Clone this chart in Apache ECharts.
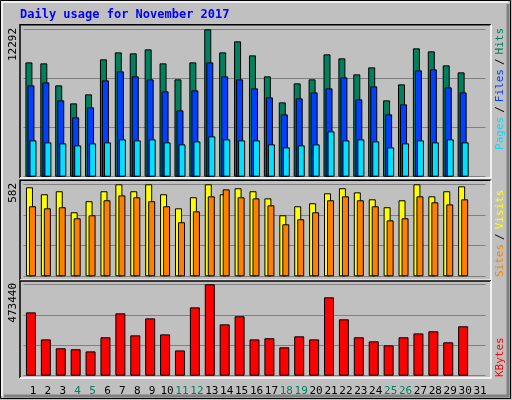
<!DOCTYPE html>
<html><head><meta charset="utf-8">
<script src="https://cdn.jsdelivr.net/npm/echarts@6/dist/echarts.min.js"></script>
<style>html,body{margin:0;padding:0;background:#c0c0c0}#c{width:512px;height:400px}</style>
</head><body><div id="c"></div>
<script>
const days = Array.from({length:31},(_,i)=>String(i+1));
const weekend = ['4','5','11','12','18','19','25','26'];
const hits  = [9535,9452,7617,6116,6867,9786,10369,10286,10620,9452,8118,9535,12292,10369,11287,10119,8368,6199,7784,8118,10203,9869,8535,9118,6366,7701,10703,10453,9285,8701,null];
const files = [7617,7867,6366,4948,5782,8034,8785,8368,8118,7117,5532,7200,9535,8368,8118,7367,6616,5199,6533,7033,7367,8284,6450,7534,5199,6033,8868,8952,7450,7033,null];
const pages = [3030,2863,2780,2613,2780,2863,3114,3030,3114,2863,2697,2947,3364,3114,3030,3030,2697,2446,2613,2697,3781,3030,3114,2947,2446,2780,3030,2863,3114,2863,null];
const visits = [563,519,538,405,475,538,582,538,582,519,430,500,582,519,557,538,493,386,443,462,525,557,531,487,437,481,582,506,538,569,null];
const sites  = [443,430,437,367,386,481,512,500,475,443,342,411,506,550,500,493,449,329,361,405,481,506,481,443,354,367,506,468,455,487,null];
const kbytes = [328000,188000,142000,137000,126000,199000,323000,209000,297000,214000,131000,354000,473440,266000,308000,188000,194000,147000,204000,188000,406000,292000,199000,178000,157000,199000,219000,230000,173000,256000,null];
const maxHits = 12292, maxSV = 582, maxKB = 473440;

const chart = echarts.init(document.getElementById('c'));
const F = 'DejaVu Sans Mono';
const L = 23.5, R = 26.5;
const grids = [
  {left:L,right:R,top:29.3,bottom:223.3},
  {left:L,right:R,top:184.3,bottom:123.7},
  {left:L,right:R,top:284.3,bottom:24.3}
];
function xa(i, show){
  return {type:'category',data:days,gridIndex:i,axisLine:{show:false},axisTick:{show:false},
    splitLine:{show:false},
    axisLabel:{show:show,interval:0,margin:10,fontFamily:F,fontSize:11,padding:[0,0,0,4],
      color:(v)=>weekend.includes(v)?'#008060':'#000'}};
}
function ya(i,max){
  return {type:'value',gridIndex:i,min:0,max:max,interval:max/3,axisLabel:{show:false},
    axisLine:{show:false},axisTick:{show:false},splitLine:{lineStyle:{color:'#808080',width:1}}};
}
const bs = (c)=>({color:c,borderColor:'#000',borderWidth:1});
function frame(y0,y1){
  return [
    {type:'polyline',shape:{points:[[20,y1],[20,y0],[491,y0]]},style:{stroke:'#000',lineWidth:1.5,fill:null},z:50},
    {type:'polyline',shape:{points:[[491,y0],[491,y1],[20,y1]]},style:{stroke:'#fff',lineWidth:1.5,fill:null},z:50}
  ];
}
const T = (c)=>({fill:c,font:'11px '+F});
chart.setOption({
  animation:false,
  backgroundColor:'#c0c0c0',
  grid:grids,
  xAxis:[xa(0,false),xa(1,false),xa(2,true)],
  yAxis:[ya(0,maxHits),ya(1,maxSV),ya(2,maxKB)],
  series:[
    {type:'bar',xAxisIndex:0,yAxisIndex:0,data:hits,barWidth:7,barGap:'-71%',itemStyle:bs('#00805c')},
    {type:'bar',xAxisIndex:0,yAxisIndex:0,data:files,barWidth:7,barGap:'-71%',itemStyle:bs('#0040ff')},
    {type:'bar',xAxisIndex:0,yAxisIndex:0,data:pages,barWidth:7,barGap:'-71%',itemStyle:bs('#00e0ff')},
    {type:'bar',xAxisIndex:1,yAxisIndex:1,data:visits,barWidth:7,barGap:'-57%',itemStyle:bs('#ffff00')},
    {type:'bar',xAxisIndex:1,yAxisIndex:1,data:sites,barWidth:7,barGap:'-57%',itemStyle:bs('#ff8000')},
    {type:'bar',xAxisIndex:2,yAxisIndex:2,data:kbytes,barWidth:10,itemStyle:bs('#ff0000')}
  ],
  graphic:[
    {type:'rect',shape:{x:0.5,y:0.5,width:510,height:398},style:{fill:null,stroke:'#000',lineWidth:1},z:40},
    {type:'polyline',shape:{points:[[4,396],[508,396],[508,4]]},style:{stroke:'#808080',lineWidth:3,fill:null},z:40},
    {type:'polyline',shape:{points:[[2,396],[2,2],[508,2]]},style:{stroke:'#fff',lineWidth:1.5,fill:null},z:40},
    ...frame(24.7,178),...frame(180.3,280.3),...frame(281,378),
    {type:'text',x:20,y:15,style:{text:'Daily usage for November 2017',fill:'#0000ff',font:'bold 12px '+F,verticalAlign:'middle'},z:60},
    {type:'text',x:13,y:28,rotation:Math.PI/2,style:{text:String(maxHits),fill:'#000',font:'11px '+F,align:'right',verticalAlign:'middle'},z:60},
    {type:'text',x:13,y:183,rotation:Math.PI/2,style:{text:String(maxSV),fill:'#000',font:'11px '+F,align:'right',verticalAlign:'middle'},z:60},
    {type:'text',x:13,y:283,rotation:Math.PI/2,style:{text:String(maxKB),fill:'#000',font:'11px '+F,align:'right',verticalAlign:'middle'},z:60},
    {type:'text',x:500,y:28,rotation:Math.PI/2,style:{text:'{p|Pages}{k|/}{f|Files}{k|/}{h|Hits}',
      rich:{h:T('#00805c'),f:T('#0040ff'),p:T('#00e0ff'),k:Object.assign(T('#000'),{padding:[0,4]})},align:'right',verticalAlign:'middle'},z:60},
    {type:'text',x:500,y:277,rotation:Math.PI/2,style:{text:'{s|Sites}{k|/}{v|Visits}',
      rich:{v:T('#ffff00'),s:T('#ff8000'),k:Object.assign(T('#000'),{padding:[0,4]})},align:'left',verticalAlign:'middle'},z:60},
    {type:'text',x:500,y:377,rotation:Math.PI/2,style:{text:'KBytes',fill:'#ff0000',font:'11px '+F,align:'left',verticalAlign:'middle'},z:60}
  ]
});
</script></body></html>
